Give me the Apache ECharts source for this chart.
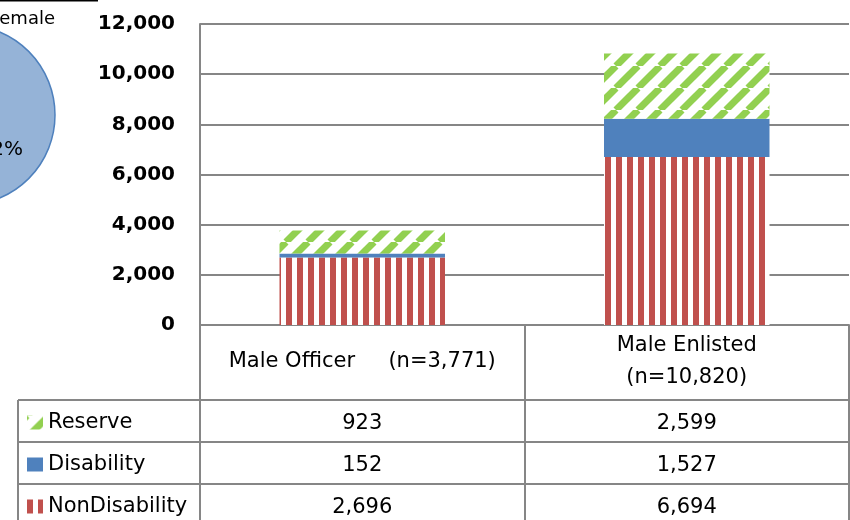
<!DOCTYPE html>
<html>
<head>
<meta charset="utf-8">
<script src="https://cdn.jsdelivr.net/npm/echarts@6/dist/echarts.min.js"></script>
<style>
    html, body { margin: 0; padding: 0; background: #fff; }
    #chart { width: 850px; height: 520px; }
</style>
</head>
<body>
<div id="chart"></div>
<script>
// chart values
var categories = ['Male Officer     (n=3,771)', 'Male Enlisted\n(n=10,820)'];
var nonDisability = [2696, 6694];
var disability = [152, 1527];
var reserve = [923, 2599];
var rowNames = ['Reserve', 'Disability', 'NonDisability'];
var yMax = 12000;
var yStep = 2000;
// fragment of the neighbouring pie on the left
var pieNames = ['Male', 'Female'];
var pieShares = [92, 8];

var fontFamily = '"DejaVu Sans", sans-serif';
var gridGray = '#868686';

function stripePattern() {
    var c = document.createElement('canvas');
    c.width = 11; c.height = 4;
    var ctx = c.getContext('2d');
    ctx.fillStyle = '#fff';
    ctx.fillRect(0, 0, 11, 4);
    ctx.fillStyle = '#C0504D';
    ctx.fillRect(0, 0, 6, 4);
    return c;
}

function diagonalPattern() {
    var s = 22;
    var c = document.createElement('canvas');
    c.width = s; c.height = s;
    var ctx = c.getContext('2d');
    ctx.fillStyle = '#fff';
    ctx.fillRect(0, 0, s, s);
    ctx.strokeStyle = '#92D050';
    ctx.lineWidth = 7;
    for (var k = -1; k <= 1; k++) {
        ctx.beginPath();
        ctx.moveTo(k * s, s);
        ctx.lineTo(k * s + s, 0);
        ctx.stroke();
    }
    return c;
}

var redFill = {image: stripePattern(), repeat: 'repeat'};
var greenFill = {image: diagonalPattern(), repeat: 'repeat'};
var blueFill = '#4F81BD';

var tableRows = [reserve, disability, nonDisability];
var tableData = [];
for (var r = 0; r < tableRows.length; r++) {
    for (var c = 0; c < categories.length; c++) {
        tableData.push([c, r, tableRows[r][c]]);
    }
}

var pieData = [];
for (var i = 0; i < pieNames.length; i++) {
    pieData.push({name: pieNames[i], value: pieShares[i]});
}

var chart = echarts.init(document.getElementById('chart'));

var option = {
    animation: false,
    textStyle: {fontFamily: fontFamily},
    grid: [
        {left: 200, right: 1, top: 24, bottom: 195},
        {left: 200, right: 1, top: 400, bottom: -6, outerBoundsMode: 'none'}
    ],
    legend: {
        data: rowNames,
        orient: 'vertical',
        left: 27,
        top: 412,
        padding: 0,
        icon: 'rect',
        itemWidth: 16,
        itemHeight: 14,
        itemGap: 21,
        selectedMode: false,
        textStyle: {fontFamily: fontFamily, fontSize: 21, color: '#000', lineHeight: 21}
    },
    xAxis: [
        {
            type: 'category',
            gridIndex: 0,
            data: categories,
            axisLine: {lineStyle: {color: gridGray, width: 2}},
            axisTick: {show: true, length: 210, lineStyle: {color: gridGray, width: 2}},
            axisLabel: {
                margin: 37,
                verticalAlign: 'middle',
                fontFamily: fontFamily,
                fontSize: 21,
                lineHeight: 32,
                color: '#000',
                interval: 0
            }
        },
        {
            type: 'category',
            gridIndex: 1,
            data: categories,
            show: false
        }
    ],
    yAxis: [
        {
            type: 'value',
            gridIndex: 0,
            min: 0,
            max: yMax,
            interval: yStep,
            axisLine: {show: true, lineStyle: {color: gridGray, width: 2}},
            axisTick: {show: false},
            splitLine: {lineStyle: {color: gridGray, width: 2}},
            axisLabel: {
                margin: 25,
                fontFamily: fontFamily,
                fontSize: 20,
                fontWeight: 'bold',
                color: '#000',
                formatter: function (v) {
                    return v.toLocaleString('en-US');
                }
            }
        },
        {
            type: 'category',
            gridIndex: 1,
            data: rowNames,
            inverse: true,
            axisLine: {show: false},
            axisLabel: {show: false},
            axisTick: {show: true, length: 182, lineStyle: {color: gridGray, width: 2}},
            splitLine: {show: true, lineStyle: {color: gridGray, width: 2}}
        }
    ],
    series: [
        {
            name: 'NonDisability',
            type: 'bar',
            stack: 'total',
            barWidth: '51%',
            data: nonDisability,
            itemStyle: {color: redFill}
        },
        {
            name: 'Disability',
            type: 'bar',
            stack: 'total',
            data: disability,
            itemStyle: {color: blueFill}
        },
        {
            name: 'Reserve',
            type: 'bar',
            stack: 'total',
            data: reserve,
            itemStyle: {color: greenFill}
        },
        {
            type: 'scatter',
            xAxisIndex: 1,
            yAxisIndex: 1,
            symbolSize: 1,
            itemStyle: {color: '#fff', opacity: 1},
            data: tableData,
            label: {
                show: true,
                position: 'inside',
                offset: [0, 3],
                fontFamily: fontFamily,
                fontSize: 21,
                color: '#000',
                textBorderWidth: 0,
                formatter: function (p) {
                    return p.value[2].toLocaleString('en-US');
                }
            }
        },
        {
            type: 'pie',
            center: [-35, 115],
            radius: 90,
            startAngle: 90,
            label: {show: false},
            labelLine: {show: false},
            data: pieData,
            color: ['#95B3D7', '#4F81BD'],
            itemStyle: {borderColor: '#4F81BD', borderWidth: 1.5}
        }
    ],
    graphic: [
        {
            type: 'line',
            shape: {x1: 18, y1: 400, x2: 18, y2: 526},
            style: {stroke: gridGray, lineWidth: 2}
        },
        {
            type: 'line',
            shape: {x1: 0, y1: 0, x2: 98, y2: 0},
            style: {stroke: '#000', lineWidth: 3}
        },
        {
            type: 'text',
            x: 55,
            y: 19,
            style: {text: 'Female', font: '18px ' + fontFamily, fill: '#000', textAlign: 'right', textVerticalAlign: 'middle'}
        },
        {
            type: 'text',
            x: 23,
            y: 150,
            z: 10,
            style: {text: '92%', font: '20px ' + fontFamily, fill: '#000', textAlign: 'right', textVerticalAlign: 'middle'}
        }
    ]
};

chart.setOption(option);
</script>
</body>
</html>
